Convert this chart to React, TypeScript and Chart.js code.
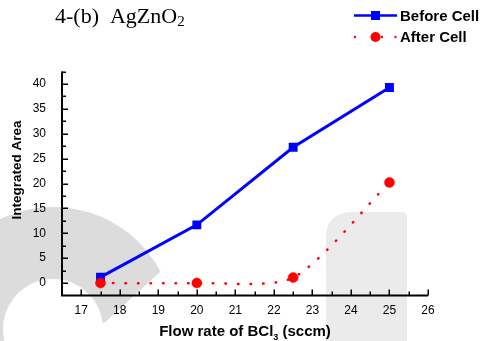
import { useEffect, useRef } from "react";
import { Chart, registerables } from "chart.js";

Chart.register(...registerables);

const flowRates = [17.5, 20, 22.5, 25];
const beforeCell = [1.2, 11.7, 27.3, 39.3];
const afterCell = [0, 0, 1.1, 20.2];
const xTicks = [17, 18, 19, 20, 21, 22, 23, 24, 25, 26];
const yTicks = [0, 5, 10, 15, 20, 25, 30, 35, 40];
const xRange = [16.5, 26];
const yRange = [-2.5, 42.5];
const titleText = "4-(b)  AgZnO";
const titleSub = "2";
const legendLabels = ["Before Cell", "After Cell"];
const yTitle = "Integrated Area";
const xTitleParts = ["Flow rate of BCl", "3", " (sccm)"];

const SANS = "'Liberation Sans', Arial, sans-serif";
const SERIF = "'Liberation Serif', 'Times New Roman', serif";
const BLUE = "#0000ff";
const RED = "#ff0000";

const decorPlugin = {
  id: "decor",
  beforeDraw(chart: any) {
    const ctx = chart.ctx;
    ctx.save();
    ctx.fillStyle = "#ffffff";
    ctx.fillRect(0, 0, chart.width, chart.height);
    // watermark shapes
    ctx.fillStyle = "#dcdcdc";
    ctx.beginPath();
    const cx = 53, cy = 329;
    ctx.arc(cx, cy, 122, Math.PI * 0.85, Math.PI * 2 - 0.49, false);
    ctx.lineTo(cx + 52 * Math.cos(-0.12), cy + 52 * Math.sin(-0.12));
    ctx.arc(cx, cy, 50, Math.PI * 2 - 0.12, Math.PI * 0.85, true);
    ctx.closePath();
    ctx.fill();
    ctx.fillStyle = "#ebebeb";
    ctx.beginPath();
    const l = 326, r = 407, t = 212, b = 345;
    ctx.moveTo(l, b);
    ctx.lineTo(l, t + 22);
    ctx.quadraticCurveTo(l + 2, t + 2, l + 24, t);
    ctx.lineTo(r - 5, t);
    ctx.quadraticCurveTo(r, t, r, t + 5);
    ctx.lineTo(r, b);
    ctx.closePath();
    ctx.fill();
    ctx.restore();
  },
  beforeDatasetsDraw(chart: any) {
    const ctx = chart.ctx;
    const xs = chart.scales.x;
    const ys = chart.scales.y;
    const ca = chart.chartArea;
    ctx.save();
    ctx.strokeStyle = "#000";
    ctx.lineWidth = 2;
    ctx.lineCap = "butt";
    ctx.beginPath();
    ctx.moveTo(ca.left, ca.top);
    ctx.lineTo(ca.left, ca.bottom);
    ctx.lineTo(ca.right, ca.bottom);
    ctx.stroke();
    ctx.lineWidth = 1.5;
    ctx.beginPath();
    // x ticks (inward)
    for (let v = xRange[0]; v <= xRange[1] + 1e-9; v += 0.5) {
      const px = Math.round(xs.getPixelForValue(v)) + 0.25;
      const major = xTicks.includes(v);
      if (v === xRange[0]) continue;
      ctx.moveTo(px, ca.bottom);
      ctx.lineTo(px, ca.bottom - (major ? 6 : 4));
    }
    // y ticks (inward)
    for (let v = yRange[0]; v <= yRange[1] + 1e-9; v += 2.5) {
      const py = Math.round(ys.getPixelForValue(v)) + 0.25;
      const major = yTicks.includes(v);
      if (v === yRange[0]) continue;
      ctx.moveTo(ca.left, py);
      ctx.lineTo(ca.left + (major ? 6 : 4), py);
    }
    ctx.stroke();

    // axis titles
    ctx.fillStyle = "#000";
    ctx.font = `bold 15px ${SANS}`;
    const w0 = ctx.measureText(xTitleParts[0]).width;
    ctx.font = `bold 9px ${SANS}`;
    const w1 = ctx.measureText(xTitleParts[1]).width;
    ctx.font = `bold 15px ${SANS}`;
    const w2 = ctx.measureText(xTitleParts[2]).width;
    const total = w0 + w1 + w2;
    const x0 = (ca.left + ca.right) / 2 - total / 2;
    const base = 336.3;
    ctx.textBaseline = "alphabetic";
    ctx.textAlign = "left";
    ctx.fillText(xTitleParts[0], x0, base);
    ctx.font = `bold 9px ${SANS}`;
    ctx.fillText(xTitleParts[1], x0 + w0, base + 3.5);
    ctx.font = `bold 15px ${SANS}`;
    ctx.fillText(xTitleParts[2], x0 + w0 + w1, base);

    ctx.save();
    ctx.translate(17.5, 170);
    ctx.rotate(-Math.PI / 2);
    ctx.font = `bold 13.5px ${SANS}`;
    ctx.textAlign = "center";
    ctx.textBaseline = "middle";
    ctx.fillText(yTitle, 0, 0);
    ctx.restore();

    // title
    ctx.font = `22px ${SERIF}`;
    ctx.textAlign = "left";
    ctx.textBaseline = "alphabetic";
    ctx.fillText(titleText, 55, 23);
    const tw = ctx.measureText(titleText).width;
    ctx.font = `15px ${SERIF}`;
    ctx.fillText(titleSub, 55 + tw, 26);

    // legend
    const ly1 = 15.5, ly2 = 37;
    ctx.strokeStyle = BLUE;
    ctx.lineWidth = 2.5;
    ctx.beginPath();
    ctx.moveTo(354, ly1);
    ctx.lineTo(397, ly1);
    ctx.stroke();
    ctx.fillStyle = BLUE;
    ctx.fillRect(375.5 - 4.5, ly1 - 4.5, 9, 9);
    ctx.fillStyle = RED;
    for (const dx of [355, 382, 395.5]) {
      ctx.beginPath();
      ctx.arc(dx, ly2, 1.2, 0, Math.PI * 2);
      ctx.fill();
    }
    ctx.beginPath();
    ctx.arc(375.5, ly2, 5, 0, Math.PI * 2);
    ctx.fill();
    ctx.fillStyle = "#000";
    ctx.font = `bold 15px ${SANS}`;
    ctx.textBaseline = "middle";
    ctx.fillText(legendLabels[0], 400, ly1 + 1);
    ctx.fillText(legendLabels[1], 400, ly2 + 1);
    ctx.restore();
  },
};

export default function App() {
  const ref = useRef<HTMLCanvasElement | null>(null);
  useEffect(() => {
    document.body.style.margin = "0";
    const canvas = ref.current!;
    const chart = new Chart(canvas, {
      type: "line",
      data: {
        datasets: [
          {
            label: legendLabels[1],
            data: flowRates.map((x, i) => ({ x, y: afterCell[i] })),
            borderColor: RED,
            backgroundColor: RED,
            borderWidth: 2.5,
            borderDash: [0.5, 12],
            borderCapStyle: "round",
            tension: 0.25,
            pointStyle: "circle",
            pointRadius: 5,
            pointBorderWidth: 0.5,
            pointBackgroundColor: RED,
            pointBorderColor: RED,
            order: 0,
          },
          {
            label: legendLabels[0],
            data: flowRates.map((x, i) => ({ x, y: beforeCell[i] })),
            borderColor: BLUE,
            backgroundColor: BLUE,
            borderWidth: 3,
            tension: 0,
            pointStyle: "rect",
            pointRadius: 6.3,
            pointBorderWidth: 0,
            pointBackgroundColor: BLUE,
            order: 1,
          },
        ],
      },
      options: {
        responsive: false,
        animation: false,
        devicePixelRatio: 1,
        layout: { padding: { top: 71.6, right: 59, left: 0, bottom: 0 } },
        plugins: { legend: { display: false }, tooltip: { enabled: false }, title: { display: false } },
        scales: {
          x: {
            type: "linear",
            min: xRange[0],
            max: xRange[1],
            grid: { display: false },
            border: { display: false },
            ticks: { font: { family: SANS, size: 12 }, color: "#000", padding: 0, maxRotation: 0 },
            afterBuildTicks: (s: any) => {
              s.ticks = xTicks.map((v) => ({ value: v }));
            },
            afterFit: (s: any) => {
              s.height = 341 - 295.5;
            },
          },
          y: {
            type: "linear",
            min: yRange[0],
            max: yRange[1],
            grid: { display: false },
            border: { display: false },
            ticks: { font: { family: SANS, size: 12 }, color: "#000", padding: 8 },
            afterBuildTicks: (s: any) => {
              s.ticks = yTicks.map((v) => ({ value: v }));
            },
            afterFit: (s: any) => {
              s.width = 62;
            },
          },
        },
      },
      plugins: [decorPlugin],
    } as any);
    return () => chart.destroy();
  }, []);
  return (
    <canvas ref={ref} width={487} height={341} style={{ display: "block", width: 487, height: 341 }} />
  );
}
